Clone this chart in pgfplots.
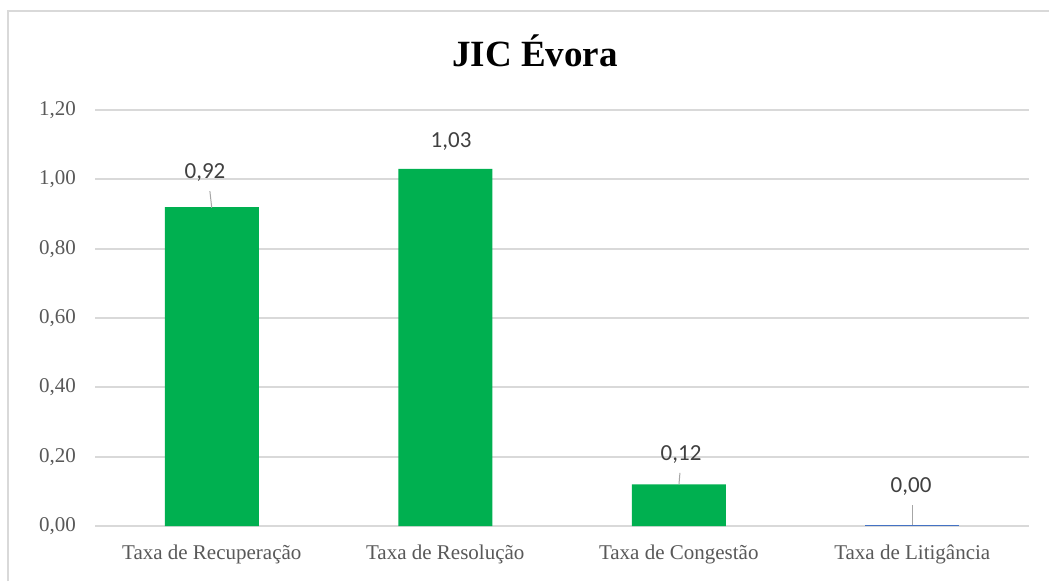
\documentclass[border=0pt]{standalone}
\usepackage{fontspec}
\setmainfont{Liberation Serif}
\newfontfamily\calibri{Carlito}
\usepackage{pgfplots}
\pgfplotsset{compat=1.18}
\definecolor{barg}{HTML}{00B050}
\definecolor{barb}{HTML}{4472C4}
\definecolor{gridc}{HTML}{D9D9D9}
\definecolor{tickc}{HTML}{595959}
\definecolor{lblc}{HTML}{404040}
\definecolor{leadc}{HTML}{A6A6A6}
\begin{document}
\begin{tikzpicture}[x=1pt,y=1pt]
\useasboundingbox (0,0) rectangle (1049,581);
\fill[white] (0,0) rectangle (1049,581);
\draw[gridc, line width=1.5pt] (8,0) -- (8,570) -- (1049,570);
\node[font=\fontsize{37}{40}\selectfont\bfseries, anchor=base, inner sep=0pt] at (535,514) {JIC Évora};
\begin{axis}[
 at={(95pt,55pt)}, anchor=south west,
 scale only axis, width=934pt, height=416pt,
 xmin=-0.5, xmax=3.5, ymin=0, ymax=1.2,
 ytick={0,0.2,0.4,0.6,0.8,1.0,1.2},
 xtick={0,1,2,3},
 xticklabels={Taxa de Recuperação, Taxa de Resolução, Taxa de Congestão, Taxa de Litigância},
 ymajorgrids, grid style={gridc, line width=1.8pt},
 axis line style={draw=none}, major tick length=0pt,
 tick style={draw=none},
 ticklabel style={font=\fontsize{21}{24}\selectfont, text=tickc},
 yticklabel style={/pgf/number format/fixed, /pgf/number format/fixed zerofill, /pgf/number format/precision=2, /pgf/number format/use comma, /pgf/number format/assume math mode=true, anchor=east, inner sep=0pt, xshift=-19pt},
 xticklabel style={anchor=north, inner sep=0pt, yshift=-19pt},
 clip=false,
]
\addplot[ybar, bar width=94pt, bar shift=0pt, fill=barg, draw=none] coordinates {(0,0.92) (1,1.03) (2,0.12)};
\addplot[ybar, bar width=94pt, bar shift=0pt, fill=barb, draw=none] coordinates {(3,0.004)};
\draw[leadc, line width=1pt] (axis cs:-0.008,0.966) -- (axis cs:0,0.918);
\draw[leadc, line width=1pt] (axis cs:2.005,0.153) -- (axis cs:2.001,0.12);
\draw[leadc, line width=1pt] (axis cs:3,0.06) -- (axis cs:3,0.004);
\node[font=\calibri\fontsize{23}{26}\selectfont, text=lblc] at (axis cs:-0.029,1.021) {0,92};
\node[font=\calibri\fontsize{23}{26}\selectfont, text=lblc] at (axis cs:1.025,1.108) {1,03};
\node[font=\calibri\fontsize{23}{26}\selectfont, text=lblc] at (axis cs:2.010,0.205) {0,12};
\node[font=\calibri\fontsize{23}{26}\selectfont, text=lblc] at (axis cs:2.995,0.1125) {0,00};
\end{axis}
\end{tikzpicture}
\end{document}
